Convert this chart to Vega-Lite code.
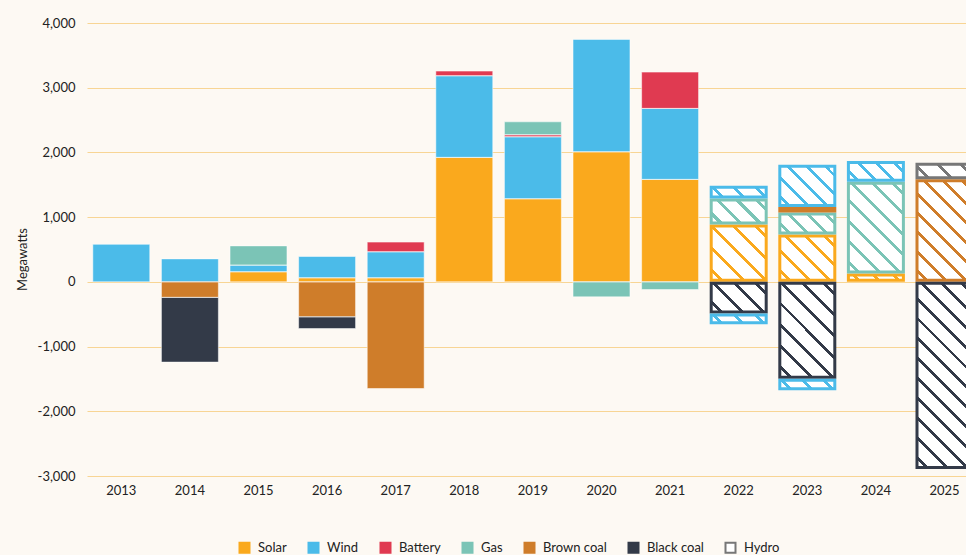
{
  "$schema": "https://vega.github.io/schema/vega-lite/v6.json",
  "width": 879,
  "height": 453,
  "autosize": {"type": "none"},
  "padding": {"left": 87, "top": 23, "right": 0, "bottom": 79},
  "background": "#FDF9F3",
  "config": {
    "view": {"stroke": null},
    "font": "Lato",
    "axis": {"labelFontSize": 13, "labelColor": "#222222", "titleColor": "#222222", "titleFontSize": 13, "titleFontWeight": "normal"}
  },
  "datasets": {
    "actual": [
      {"year": "2013", "type": "Wind", "lo": 0, "hi": 580},
      {"year": "2014", "type": "Wind", "lo": 0, "hi": 355},
      {"year": "2014", "type": "Brown coal", "lo": -240, "hi": 0},
      {"year": "2014", "type": "Black coal", "lo": -1240, "hi": -240},
      {"year": "2015", "type": "Solar", "lo": 0, "hi": 155},
      {"year": "2015", "type": "Wind", "lo": 155, "hi": 258},
      {"year": "2015", "type": "Gas", "lo": 258, "hi": 556},
      {"year": "2016", "type": "Solar", "lo": 0, "hi": 62},
      {"year": "2016", "type": "Wind", "lo": 62, "hi": 392},
      {"year": "2016", "type": "Brown coal", "lo": -541, "hi": 0},
      {"year": "2016", "type": "Black coal", "lo": -721, "hi": -541},
      {"year": "2017", "type": "Solar", "lo": 0, "hi": 62},
      {"year": "2017", "type": "Wind", "lo": 62, "hi": 464},
      {"year": "2017", "type": "Battery", "lo": 464, "hi": 614},
      {"year": "2017", "type": "Brown coal", "lo": -1648, "hi": 0},
      {"year": "2018", "type": "Solar", "lo": 0, "hi": 1923},
      {"year": "2018", "type": "Wind", "lo": 1923, "hi": 3184},
      {"year": "2018", "type": "Battery", "lo": 3184, "hi": 3257},
      {"year": "2019", "type": "Solar", "lo": 0, "hi": 1283},
      {"year": "2019", "type": "Wind", "lo": 1283, "hi": 2241},
      {"year": "2019", "type": "Battery", "lo": 2241, "hi": 2272},
      {"year": "2019", "type": "Gas", "lo": 2272, "hi": 2473},
      {"year": "2020", "type": "Solar", "lo": 0, "hi": 2009},
      {"year": "2020", "type": "Wind", "lo": 2009, "hi": 3746},
      {"year": "2020", "type": "Gas", "lo": -232, "hi": 0},
      {"year": "2021", "type": "Solar", "lo": 0, "hi": 1583},
      {"year": "2021", "type": "Wind", "lo": 1583, "hi": 2680},
      {"year": "2021", "type": "Battery", "lo": 2680, "hi": 3241},
      {"year": "2021", "type": "Gas", "lo": -118, "hi": 0}
    ],
    "committed": [
      {"year": "2022", "type": "Solar", "lo": 0, "hi": 887},
      {"year": "2022", "type": "Gas", "lo": 887, "hi": 1289},
      {"year": "2022", "type": "Wind", "lo": 1289, "hi": 1484},
      {"year": "2022", "type": "Black coal", "lo": -489, "hi": 0},
      {"year": "2022", "type": "Wind", "lo": -654, "hi": -489},
      {"year": "2023", "type": "Solar", "lo": 0, "hi": 733},
      {"year": "2023", "type": "Gas", "lo": 733, "hi": 1073},
      {"year": "2023", "type": "Brown coal", "lo": 1073, "hi": 1155},
      {"year": "2023", "type": "Wind", "lo": 1155, "hi": 1808},
      {"year": "2023", "type": "Black coal", "lo": -1499, "hi": 0},
      {"year": "2023", "type": "Wind", "lo": -1674, "hi": -1499},
      {"year": "2024", "type": "Solar", "lo": 0, "hi": 130},
      {"year": "2024", "type": "Gas", "lo": 130, "hi": 1546},
      {"year": "2024", "type": "Wind", "lo": 1546, "hi": 1866},
      {"year": "2025", "type": "Brown coal", "lo": 0, "hi": 1587},
      {"year": "2025", "type": "Hydro", "lo": 1587, "hi": 1839},
      {"year": "2025", "type": "Black coal", "lo": -2890, "hi": 0}
    ]
  },
  "layer": [
    {
      "data": {"name": "actual"},
      "mark": {"type": "bar", "width": {"band": 0.83}},
      "encoding": {
        "x": {
          "field": "year", "type": "nominal",
          "scale": {"domain": ["2013","2014","2015","2016","2017","2018","2019","2020","2021","2022","2023","2024","2025"], "range": [0, 891.8], "paddingInner": 0, "paddingOuter": 0},
          "axis": {"title": null, "labelAngle": 0, "domain": false, "ticks": false, "tickSize": 0, "labelPadding": 8, "grid": false}
        },
        "y": {
          "field": "lo", "type": "quantitative",
          "scale": {"domain": [-3000, 4000], "nice": false, "zero": false},
          "axis": {"title": "Megawatts", "values": [-3000,-2000,-1000,0,1000,2000,3000,4000], "labelExpr": "replace(format(datum.value, ','), '\u2212', '-')", "domain": false, "ticks": false, "tickSize": 0, "labelPadding": 12, "gridColor": "#F8D594", "gridWidth": 1.2, "titleX": -65, "titleY": 236, "titleAngle": -90, "titleAlign": "center", "titleBaseline": "middle"}
        },
        "y2": {"field": "hi"},
        "color": {
          "field": "type", "type": "nominal",
          "scale": {"domain": ["Solar","Wind","Battery","Gas","Brown coal","Black coal","Hydro"], "range": ["#FAA91D","#4BBBE9","#E03A51","#7BC4B6","#CF7D2A","#333A48","#FFFFFF"]},
          "legend": {
            "title": null, "orient": "none", "legendX": 151, "legendY": 518, "direction": "horizontal",
            "symbolType": "square", "symbolSize": 100, "symbolStrokeWidth": 2,
            "labelFontSize": 13, "labelColor": "#222222", "labelOffset": 7, "columnPadding": 17
          }
        }
      }
    },
    {
      "data": {"name": "actual"},
      "mark": {"type": "bar", "width": {"band": 0.83}, "filled": false, "stroke": "#FFFFFF", "strokeWidth": 1, "strokeOpacity": 0.5},
      "encoding": {
        "x": {"field": "year", "type": "nominal"},
        "y": {"field": "lo", "type": "quantitative"},
        "y2": {"field": "hi"}
      }
    },
    {
      "data": {"name": "committed"},
      "mark": {"type": "bar", "width": {"band": 0.8017}, "strokeWidth": 3, "yOffset": -1.5, "y2Offset": 1.5},
      "encoding": {
        "x": {"field": "year", "type": "nominal"},
        "y": {"field": "lo", "type": "quantitative"},
        "y2": {"field": "hi"},
        "stroke": {
          "field": "type", "type": "nominal",
          "scale": {"domain": ["Solar","Wind","Battery","Gas","Brown coal","Black coal","Hydro"], "range": ["#FAA91D","#4BBBE9","#E03A51","#7BC4B6","#CF7D2A","#333A48","#777777"]},
          "legend": {
            "title": null, "orient": "none", "legendX": 151, "legendY": 518, "direction": "horizontal",
            "symbolType": "square", "symbolSize": 100, "symbolStrokeWidth": 2,
            "labelFontSize": 13, "labelColor": "#222222", "labelOffset": 7, "columnPadding": 17
          }
        },
        "fill": {
          "condition": [
            {"test": "datum.year==='2022' && datum.type==='Solar'", "value": {"gradient": "linear", "x1": 0, "y1": 1, "x2": 1.0055, "y2": 0.0055, "stops": [
              {"offset": 0.082, "color": "#FFFFFF"}, {"offset": 0.082, "color": "#FAA91D"}, {"offset": 0.118, "color": "#FAA91D"}, {"offset": 0.118, "color": "#FFFFFF"},
              {"offset": 0.282, "color": "#FFFFFF"}, {"offset": 0.282, "color": "#FAA91D"}, {"offset": 0.318, "color": "#FAA91D"}, {"offset": 0.318, "color": "#FFFFFF"},
              {"offset": 0.482, "color": "#FFFFFF"}, {"offset": 0.482, "color": "#FAA91D"}, {"offset": 0.518, "color": "#FAA91D"}, {"offset": 0.518, "color": "#FFFFFF"},
              {"offset": 0.682, "color": "#FFFFFF"}, {"offset": 0.682, "color": "#FAA91D"}, {"offset": 0.718, "color": "#FAA91D"}, {"offset": 0.718, "color": "#FFFFFF"},
              {"offset": 0.882, "color": "#FFFFFF"}, {"offset": 0.882, "color": "#FAA91D"}, {"offset": 0.918, "color": "#FAA91D"}, {"offset": 0.918, "color": "#FFFFFF"}]}},
            {"test": "datum.year==='2022' && datum.type==='Gas'", "value": {"gradient": "linear", "x1": 0, "y1": 1, "x2": 1.2071, "y2": 0.4952, "stops": [
              {"offset": 0.099, "color": "#FFFFFF"}, {"offset": 0.099, "color": "#7BC4B6"}, {"offset": 0.151, "color": "#7BC4B6"}, {"offset": 0.151, "color": "#FFFFFF"},
              {"offset": 0.349, "color": "#FFFFFF"}, {"offset": 0.349, "color": "#7BC4B6"}, {"offset": 0.401, "color": "#7BC4B6"}, {"offset": 0.401, "color": "#FFFFFF"},
              {"offset": 0.599, "color": "#FFFFFF"}, {"offset": 0.599, "color": "#7BC4B6"}, {"offset": 0.651, "color": "#7BC4B6"}, {"offset": 0.651, "color": "#FFFFFF"},
              {"offset": 0.849, "color": "#FFFFFF"}, {"offset": 0.849, "color": "#7BC4B6"}, {"offset": 0.901, "color": "#7BC4B6"}, {"offset": 0.901, "color": "#FFFFFF"}]}},
            {"test": "datum.year==='2022' && datum.type==='Wind' && datum.hi > 0", "value": {"gradient": "linear", "x1": 0, "y1": 1, "x2": 1.1398, "y2": 0.801, "stops": [
              {"offset": 0.136, "color": "#FFFFFF"}, {"offset": 0.136, "color": "#4BBBE9"}, {"offset": 0.198, "color": "#4BBBE9"}, {"offset": 0.198, "color": "#FFFFFF"},
              {"offset": 0.469, "color": "#FFFFFF"}, {"offset": 0.469, "color": "#4BBBE9"}, {"offset": 0.531, "color": "#4BBBE9"}, {"offset": 0.531, "color": "#FFFFFF"},
              {"offset": 0.802, "color": "#FFFFFF"}, {"offset": 0.802, "color": "#4BBBE9"}, {"offset": 0.864, "color": "#4BBBE9"}, {"offset": 0.864, "color": "#FFFFFF"}]}},
            {"test": "datum.year==='2022' && datum.type==='Black coal'", "value": {"gradient": "linear", "x1": 0, "y1": 1, "x2": 1.1965, "y2": 0.3778, "stops": [
              {"offset": 0.101, "color": "#FFFFFF"}, {"offset": 0.101, "color": "#333A48"}, {"offset": 0.149, "color": "#333A48"}, {"offset": 0.149, "color": "#FFFFFF"},
              {"offset": 0.351, "color": "#FFFFFF"}, {"offset": 0.351, "color": "#333A48"}, {"offset": 0.399, "color": "#333A48"}, {"offset": 0.399, "color": "#FFFFFF"},
              {"offset": 0.601, "color": "#FFFFFF"}, {"offset": 0.601, "color": "#333A48"}, {"offset": 0.649, "color": "#333A48"}, {"offset": 0.649, "color": "#FFFFFF"},
              {"offset": 0.851, "color": "#FFFFFF"}, {"offset": 0.851, "color": "#333A48"}, {"offset": 0.899, "color": "#333A48"}, {"offset": 0.899, "color": "#FFFFFF"}]}},
            {"test": "datum.year==='2022' && datum.type==='Wind' && datum.hi <= 0", "value": {"gradient": "linear", "x1": 0, "y1": 1, "x2": 1.1181, "y2": 0.8435, "stops": [
              {"offset": 0.135, "color": "#FFFFFF"}, {"offset": 0.135, "color": "#4BBBE9"}, {"offset": 0.199, "color": "#4BBBE9"}, {"offset": 0.199, "color": "#FFFFFF"},
              {"offset": 0.468, "color": "#FFFFFF"}, {"offset": 0.468, "color": "#4BBBE9"}, {"offset": 0.532, "color": "#4BBBE9"}, {"offset": 0.532, "color": "#FFFFFF"},
              {"offset": 0.801, "color": "#FFFFFF"}, {"offset": 0.801, "color": "#4BBBE9"}, {"offset": 0.865, "color": "#4BBBE9"}, {"offset": 0.865, "color": "#FFFFFF"}]}},
            {"test": "datum.year==='2023' && datum.type==='Solar'", "value": {"gradient": "linear", "x1": 0, "y1": 1, "x2": 1.0942, "y2": 0.1167, "stops": [
              {"offset": 0.08, "color": "#FFFFFF"}, {"offset": 0.08, "color": "#FAA91D"}, {"offset": 0.12, "color": "#FAA91D"}, {"offset": 0.12, "color": "#FFFFFF"},
              {"offset": 0.28, "color": "#FFFFFF"}, {"offset": 0.28, "color": "#FAA91D"}, {"offset": 0.32, "color": "#FAA91D"}, {"offset": 0.32, "color": "#FFFFFF"},
              {"offset": 0.48, "color": "#FFFFFF"}, {"offset": 0.48, "color": "#FAA91D"}, {"offset": 0.52, "color": "#FAA91D"}, {"offset": 0.52, "color": "#FFFFFF"},
              {"offset": 0.68, "color": "#FFFFFF"}, {"offset": 0.68, "color": "#FAA91D"}, {"offset": 0.72, "color": "#FAA91D"}, {"offset": 0.72, "color": "#FFFFFF"},
              {"offset": 0.88, "color": "#FFFFFF"}, {"offset": 0.88, "color": "#FAA91D"}, {"offset": 0.92, "color": "#FAA91D"}, {"offset": 0.92, "color": "#FFFFFF"}]}},
            {"test": "datum.year==='2023' && datum.type==='Gas'", "value": {"gradient": "linear", "x1": 0, "y1": 1, "x2": 1.202, "y2": 0.5848, "stops": [
              {"offset": 0.098, "color": "#FFFFFF"}, {"offset": 0.098, "color": "#7BC4B6"}, {"offset": 0.152, "color": "#7BC4B6"}, {"offset": 0.152, "color": "#FFFFFF"},
              {"offset": 0.348, "color": "#FFFFFF"}, {"offset": 0.348, "color": "#7BC4B6"}, {"offset": 0.402, "color": "#7BC4B6"}, {"offset": 0.402, "color": "#FFFFFF"},
              {"offset": 0.598, "color": "#FFFFFF"}, {"offset": 0.598, "color": "#7BC4B6"}, {"offset": 0.652, "color": "#7BC4B6"}, {"offset": 0.652, "color": "#FFFFFF"},
              {"offset": 0.848, "color": "#FFFFFF"}, {"offset": 0.848, "color": "#7BC4B6"}, {"offset": 0.902, "color": "#7BC4B6"}, {"offset": 0.902, "color": "#FFFFFF"}]}},
            {"test": "datum.year==='2023' && datum.type==='Brown coal'", "value": {"gradient": "linear", "x1": 0, "y1": 1, "x2": 1.04, "y2": 0.9565, "stops": [
              {"offset": 0.132, "color": "#FFFFFF"}, {"offset": 0.132, "color": "#CF7D2A"}, {"offset": 0.202, "color": "#CF7D2A"}, {"offset": 0.202, "color": "#FFFFFF"},
              {"offset": 0.465, "color": "#FFFFFF"}, {"offset": 0.465, "color": "#CF7D2A"}, {"offset": 0.535, "color": "#CF7D2A"}, {"offset": 0.535, "color": "#FFFFFF"},
              {"offset": 0.798, "color": "#FFFFFF"}, {"offset": 0.798, "color": "#CF7D2A"}, {"offset": 0.868, "color": "#CF7D2A"}, {"offset": 0.868, "color": "#FFFFFF"}]}},
            {"test": "datum.year==='2023' && datum.type==='Wind' && datum.hi > 0", "value": {"gradient": "linear", "x1": 0, "y1": 1, "x2": 1.1358, "y2": 0.1905, "stops": [
              {"offset": 0.079, "color": "#FFFFFF"}, {"offset": 0.079, "color": "#4BBBE9"}, {"offset": 0.121, "color": "#4BBBE9"}, {"offset": 0.121, "color": "#FFFFFF"},
              {"offset": 0.279, "color": "#FFFFFF"}, {"offset": 0.279, "color": "#4BBBE9"}, {"offset": 0.321, "color": "#4BBBE9"}, {"offset": 0.321, "color": "#FFFFFF"},
              {"offset": 0.479, "color": "#FFFFFF"}, {"offset": 0.479, "color": "#4BBBE9"}, {"offset": 0.521, "color": "#4BBBE9"}, {"offset": 0.521, "color": "#FFFFFF"},
              {"offset": 0.679, "color": "#FFFFFF"}, {"offset": 0.679, "color": "#4BBBE9"}, {"offset": 0.721, "color": "#4BBBE9"}, {"offset": 0.721, "color": "#FFFFFF"},
              {"offset": 0.879, "color": "#FFFFFF"}, {"offset": 0.879, "color": "#4BBBE9"}, {"offset": 0.921, "color": "#4BBBE9"}, {"offset": 0.921, "color": "#FFFFFF"}]}},
            {"test": "datum.year==='2023' && datum.type==='Black coal'", "value": {"gradient": "linear", "x1": 0, "y1": 1, "x2": 0.6909, "y2": -0.1808, "stops": [
              {"offset": 0.058, "color": "#FFFFFF"}, {"offset": 0.058, "color": "#333A48"}, {"offset": 0.085, "color": "#333A48"}, {"offset": 0.085, "color": "#FFFFFF"},
              {"offset": 0.201, "color": "#FFFFFF"}, {"offset": 0.201, "color": "#333A48"}, {"offset": 0.228, "color": "#333A48"}, {"offset": 0.228, "color": "#FFFFFF"},
              {"offset": 0.344, "color": "#FFFFFF"}, {"offset": 0.344, "color": "#333A48"}, {"offset": 0.371, "color": "#333A48"}, {"offset": 0.371, "color": "#FFFFFF"},
              {"offset": 0.487, "color": "#FFFFFF"}, {"offset": 0.487, "color": "#333A48"}, {"offset": 0.513, "color": "#333A48"}, {"offset": 0.513, "color": "#FFFFFF"},
              {"offset": 0.63, "color": "#FFFFFF"}, {"offset": 0.63, "color": "#333A48"}, {"offset": 0.656, "color": "#333A48"}, {"offset": 0.656, "color": "#FFFFFF"},
              {"offset": 0.772, "color": "#FFFFFF"}, {"offset": 0.772, "color": "#333A48"}, {"offset": 0.799, "color": "#333A48"}, {"offset": 0.799, "color": "#FFFFFF"},
              {"offset": 0.915, "color": "#FFFFFF"}, {"offset": 0.915, "color": "#333A48"}, {"offset": 0.942, "color": "#333A48"}, {"offset": 0.942, "color": "#FFFFFF"}]}},
            {"test": "datum.year==='2023' && datum.type==='Wind' && datum.hi <= 0", "value": {"gradient": "linear", "x1": 0, "y1": 1, "x2": 1.1253, "y2": 0.8302, "stops": [
              {"offset": 0.135, "color": "#FFFFFF"}, {"offset": 0.135, "color": "#4BBBE9"}, {"offset": 0.199, "color": "#4BBBE9"}, {"offset": 0.199, "color": "#FFFFFF"},
              {"offset": 0.468, "color": "#FFFFFF"}, {"offset": 0.468, "color": "#4BBBE9"}, {"offset": 0.532, "color": "#4BBBE9"}, {"offset": 0.532, "color": "#FFFFFF"},
              {"offset": 0.801, "color": "#FFFFFF"}, {"offset": 0.801, "color": "#4BBBE9"}, {"offset": 0.865, "color": "#4BBBE9"}, {"offset": 0.865, "color": "#FFFFFF"}]}},
            {"test": "datum.year==='2024' && datum.type==='Solar'", "value": {"gradient": "linear", "x1": 0, "y1": 1, "x2": 1.0877, "y2": 0.8932, "stops": [
              {"offset": 0.134, "color": "#FFFFFF"}, {"offset": 0.134, "color": "#FAA91D"}, {"offset": 0.2, "color": "#FAA91D"}, {"offset": 0.2, "color": "#FFFFFF"},
              {"offset": 0.467, "color": "#FFFFFF"}, {"offset": 0.467, "color": "#FAA91D"}, {"offset": 0.533, "color": "#FAA91D"}, {"offset": 0.533, "color": "#FFFFFF"},
              {"offset": 0.8, "color": "#FFFFFF"}, {"offset": 0.8, "color": "#FAA91D"}, {"offset": 0.866, "color": "#FAA91D"}, {"offset": 0.866, "color": "#FFFFFF"}]}},
            {"test": "datum.year==='2024' && datum.type==='Gas'", "value": {"gradient": "linear", "x1": 0, "y1": 1, "x2": 0.7263, "y2": -0.1699, "stops": [
              {"offset": 0.057, "color": "#FFFFFF"}, {"offset": 0.057, "color": "#7BC4B6"}, {"offset": 0.085, "color": "#7BC4B6"}, {"offset": 0.085, "color": "#FFFFFF"},
              {"offset": 0.2, "color": "#FFFFFF"}, {"offset": 0.2, "color": "#7BC4B6"}, {"offset": 0.228, "color": "#7BC4B6"}, {"offset": 0.228, "color": "#FFFFFF"},
              {"offset": 0.343, "color": "#FFFFFF"}, {"offset": 0.343, "color": "#7BC4B6"}, {"offset": 0.371, "color": "#7BC4B6"}, {"offset": 0.371, "color": "#FFFFFF"},
              {"offset": 0.486, "color": "#FFFFFF"}, {"offset": 0.486, "color": "#7BC4B6"}, {"offset": 0.514, "color": "#7BC4B6"}, {"offset": 0.514, "color": "#FFFFFF"},
              {"offset": 0.629, "color": "#FFFFFF"}, {"offset": 0.629, "color": "#7BC4B6"}, {"offset": 0.657, "color": "#7BC4B6"}, {"offset": 0.657, "color": "#FFFFFF"},
              {"offset": 0.772, "color": "#FFFFFF"}, {"offset": 0.772, "color": "#7BC4B6"}, {"offset": 0.8, "color": "#7BC4B6"}, {"offset": 0.8, "color": "#FFFFFF"},
              {"offset": 0.915, "color": "#FFFFFF"}, {"offset": 0.915, "color": "#7BC4B6"}, {"offset": 0.943, "color": "#7BC4B6"}, {"offset": 0.943, "color": "#FFFFFF"}]}},
            {"test": "datum.year==='2024' && datum.type==='Wind'", "value": {"gradient": "linear", "x1": 0, "y1": 1, "x2": 1.1978, "y2": 0.6145, "stops": [
              {"offset": 0.0975, "color": "#FFFFFF"}, {"offset": 0.0975, "color": "#4BBBE9"}, {"offset": 0.1525, "color": "#4BBBE9"}, {"offset": 0.1525, "color": "#FFFFFF"},
              {"offset": 0.3475, "color": "#FFFFFF"}, {"offset": 0.3475, "color": "#4BBBE9"}, {"offset": 0.4025, "color": "#4BBBE9"}, {"offset": 0.4025, "color": "#FFFFFF"},
              {"offset": 0.5975, "color": "#FFFFFF"}, {"offset": 0.5975, "color": "#4BBBE9"}, {"offset": 0.6525, "color": "#4BBBE9"}, {"offset": 0.6525, "color": "#FFFFFF"},
              {"offset": 0.8475, "color": "#FFFFFF"}, {"offset": 0.8475, "color": "#4BBBE9"}, {"offset": 0.9025, "color": "#4BBBE9"}, {"offset": 0.9025, "color": "#FFFFFF"}]}},
            {"test": "datum.year==='2025' && datum.type==='Brown coal'", "value": {"gradient": "linear", "x1": 0, "y1": 1, "x2": 0.6563, "y2": -0.1896, "stops": [
              {"offset": 0.05, "color": "#FFFFFF"}, {"offset": 0.05, "color": "#CF7D2A"}, {"offset": 0.076, "color": "#CF7D2A"}, {"offset": 0.076, "color": "#FFFFFF"},
              {"offset": 0.175, "color": "#FFFFFF"}, {"offset": 0.175, "color": "#CF7D2A"}, {"offset": 0.201, "color": "#CF7D2A"}, {"offset": 0.201, "color": "#FFFFFF"},
              {"offset": 0.3, "color": "#FFFFFF"}, {"offset": 0.3, "color": "#CF7D2A"}, {"offset": 0.326, "color": "#CF7D2A"}, {"offset": 0.326, "color": "#FFFFFF"},
              {"offset": 0.425, "color": "#FFFFFF"}, {"offset": 0.425, "color": "#CF7D2A"}, {"offset": 0.451, "color": "#CF7D2A"}, {"offset": 0.451, "color": "#FFFFFF"},
              {"offset": 0.55, "color": "#FFFFFF"}, {"offset": 0.55, "color": "#CF7D2A"}, {"offset": 0.576, "color": "#CF7D2A"}, {"offset": 0.576, "color": "#FFFFFF"},
              {"offset": 0.675, "color": "#FFFFFF"}, {"offset": 0.675, "color": "#CF7D2A"}, {"offset": 0.701, "color": "#CF7D2A"}, {"offset": 0.701, "color": "#FFFFFF"},
              {"offset": 0.8, "color": "#FFFFFF"}, {"offset": 0.8, "color": "#CF7D2A"}, {"offset": 0.826, "color": "#CF7D2A"}, {"offset": 0.826, "color": "#FFFFFF"},
              {"offset": 0.925, "color": "#FFFFFF"}, {"offset": 0.925, "color": "#CF7D2A"}, {"offset": 0.951, "color": "#CF7D2A"}, {"offset": 0.951, "color": "#FFFFFF"}]}},
            {"test": "datum.year==='2025' && datum.type==='Hydro'", "value": {"gradient": "linear", "x1": 0, "y1": 1, "x2": 1.1732, "y2": 0.7163, "stops": [
              {"offset": 0.138, "color": "#FFFFFF"}, {"offset": 0.138, "color": "#777777"}, {"offset": 0.196, "color": "#777777"}, {"offset": 0.196, "color": "#FFFFFF"},
              {"offset": 0.471, "color": "#FFFFFF"}, {"offset": 0.471, "color": "#777777"}, {"offset": 0.529, "color": "#777777"}, {"offset": 0.529, "color": "#FFFFFF"},
              {"offset": 0.804, "color": "#FFFFFF"}, {"offset": 0.804, "color": "#777777"}, {"offset": 0.862, "color": "#777777"}, {"offset": 0.862, "color": "#FFFFFF"}]}},
            {"test": "datum.year==='2025' && datum.type==='Black coal'", "value": {"gradient": "linear", "x1": 0, "y1": 1, "x2": 0.3564, "y2": -0.1923, "stops": [
              {"offset": 0.033, "color": "#FFFFFF"}, {"offset": 0.033, "color": "#333A48"}, {"offset": 0.05, "color": "#333A48"}, {"offset": 0.05, "color": "#FFFFFF"},
              {"offset": 0.117, "color": "#FFFFFF"}, {"offset": 0.117, "color": "#333A48"}, {"offset": 0.133, "color": "#333A48"}, {"offset": 0.133, "color": "#FFFFFF"},
              {"offset": 0.2, "color": "#FFFFFF"}, {"offset": 0.2, "color": "#333A48"}, {"offset": 0.217, "color": "#333A48"}, {"offset": 0.217, "color": "#FFFFFF"},
              {"offset": 0.283, "color": "#FFFFFF"}, {"offset": 0.283, "color": "#333A48"}, {"offset": 0.3, "color": "#333A48"}, {"offset": 0.3, "color": "#FFFFFF"},
              {"offset": 0.367, "color": "#FFFFFF"}, {"offset": 0.367, "color": "#333A48"}, {"offset": 0.383, "color": "#333A48"}, {"offset": 0.383, "color": "#FFFFFF"},
              {"offset": 0.45, "color": "#FFFFFF"}, {"offset": 0.45, "color": "#333A48"}, {"offset": 0.467, "color": "#333A48"}, {"offset": 0.467, "color": "#FFFFFF"},
              {"offset": 0.533, "color": "#FFFFFF"}, {"offset": 0.533, "color": "#333A48"}, {"offset": 0.55, "color": "#333A48"}, {"offset": 0.55, "color": "#FFFFFF"},
              {"offset": 0.617, "color": "#FFFFFF"}, {"offset": 0.617, "color": "#333A48"}, {"offset": 0.633, "color": "#333A48"}, {"offset": 0.633, "color": "#FFFFFF"},
              {"offset": 0.7, "color": "#FFFFFF"}, {"offset": 0.7, "color": "#333A48"}, {"offset": 0.717, "color": "#333A48"}, {"offset": 0.717, "color": "#FFFFFF"},
              {"offset": 0.783, "color": "#FFFFFF"}, {"offset": 0.783, "color": "#333A48"}, {"offset": 0.8, "color": "#333A48"}, {"offset": 0.8, "color": "#FFFFFF"},
              {"offset": 0.867, "color": "#FFFFFF"}, {"offset": 0.867, "color": "#333A48"}, {"offset": 0.883, "color": "#333A48"}, {"offset": 0.883, "color": "#FFFFFF"},
              {"offset": 0.95, "color": "#FFFFFF"}, {"offset": 0.95, "color": "#333A48"}, {"offset": 0.967, "color": "#333A48"}, {"offset": 0.967, "color": "#FFFFFF"}]}}
          ],
          "value": "#FFFFFF"
        }
      }
    },
    {
      "mark": {"type": "rule", "color": "#FFFFFF", "strokeWidth": 2},
      "encoding": {"y": {"datum": 0, "type": "quantitative"}}
    },
    {
      "mark": {"type": "rule", "color": "#BBBBBB", "strokeWidth": 1.5},
      "encoding": {
        "x": {"datum": "2022", "type": "nominal", "bandPosition": 0},
        "y": {"datum": -3000, "type": "quantitative"},
        "y2": {"datum": -3670}
      }
    },
    {
      "mark": {"type": "text", "align": "left", "baseline": "middle", "fontSize": 13, "color": "#222222"},
      "encoding": {
        "x": {"datum": "2013", "type": "nominal", "bandPosition": 0.2},
        "y": {"datum": 3660, "type": "quantitative"},
        "text": {"value": "Entry"}
      }
    },
    {
      "mark": {"type": "text", "align": "left", "baseline": "middle", "fontSize": 13, "color": "#222222"},
      "encoding": {
        "x": {"datum": "2013", "type": "nominal", "bandPosition": 0.2},
        "y": {"datum": -2566, "type": "quantitative"},
        "text": {"value": "Exit"}
      }
    },
    {
      "mark": {"type": "text", "align": "center", "baseline": "middle", "fontSize": 13, "color": "#222222"},
      "encoding": {
        "x": {"datum": "2024", "type": "nominal", "bandPosition": 0.205},
        "y": {"datum": -3560, "type": "quantitative"},
        "text": {"value": "Committed/expected"}
      }
    }
  ]
}
